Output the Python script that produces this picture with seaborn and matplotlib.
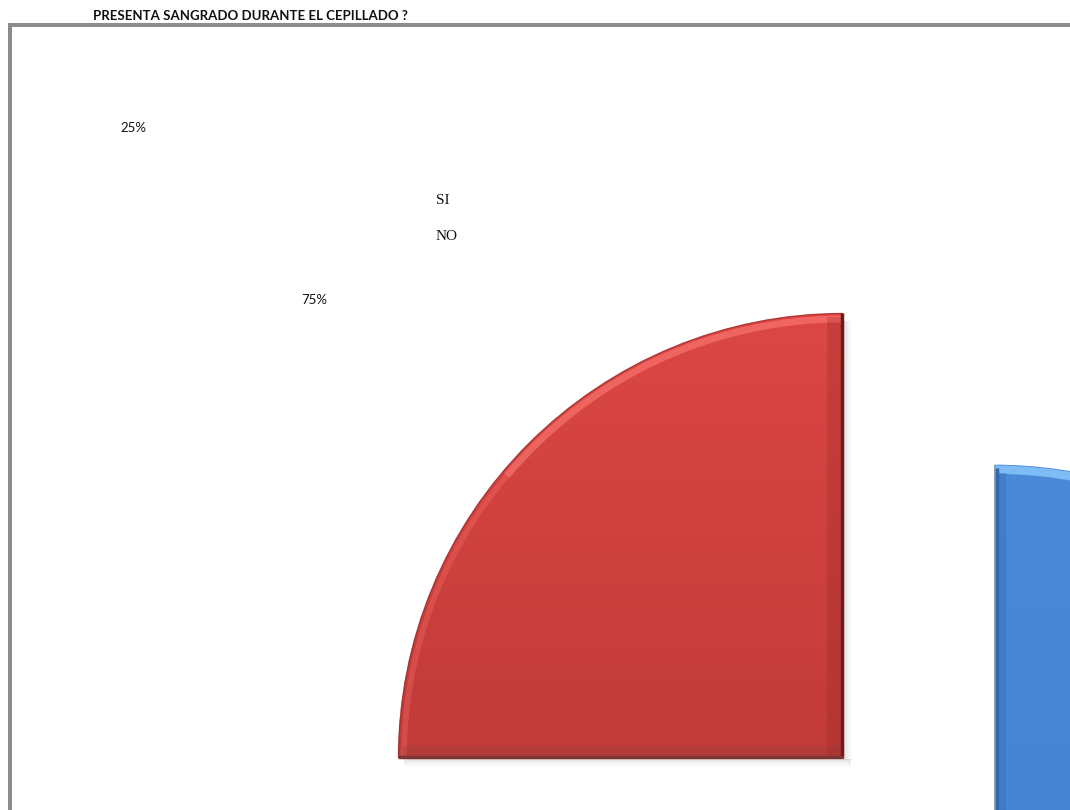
import numpy as np
import matplotlib
matplotlib.use("Agg")
import matplotlib.pyplot as plt
from matplotlib.colors import LinearSegmentedColormap
from matplotlib.patches import Rectangle, Arc
import seaborn as sns

# Survey answers and their shares (percent)
categories = ["SI", "NO"]
values = [75, 25]
title = "PRESENTA SANGRADO DURANTE EL CEPILLADO ?"

sns.set_theme(style="white")
plt.rcParams["font.family"] = ["Lato", "DejaVu Sans"]

W, H = 1070, 810
fig = plt.figure(figsize=(W / 100, H / 100), dpi=100)
ax = fig.add_axes([0, 0, 1, 1])
ax.set_axis_off()

palette = {"SI": ("#4b8ad8", "#3f7dcc"), "NO": ("#dc4744", "#a52f2e")}

# Pie drawn in pixel-like data units: y grows upward, origin at bottom-left
cx, cy, radius = 843, H - 758, 445
explode_frac = [0.482, 0.0]
wedges, _ = ax.pie(
    values,
    colors=[palette[c][0] for c in categories],
    startangle=90,
    counterclock=False,
    explode=[f * radius for f in explode_frac],
    center=(cx, cy),
    radius=radius,
    wedgeprops=dict(linewidth=0),
)

def shade_wedge(wedge, top, bottom, z):
    x0, y0 = wedge.center
    r = wedge.r
    grad = np.linspace(0, 1, 256)[:, None]
    cmap = LinearSegmentedColormap.from_list("shade", [top, bottom])
    im = ax.imshow(grad, cmap=cmap, extent=(x0 - r, x0 + r, y0 - r, y0 + r),
                   aspect="auto", origin="upper", zorder=z)
    im.set_clip_path(wedge)
    wedge.set_facecolor("none")
    wedge.set_zorder(z + 1)

def edge(xs, ys, color, lw, alpha=1.0, z=5, clip=None):
    ln, = ax.plot(xs, ys, color=color, lw=lw, alpha=alpha, zorder=z,
                  solid_capstyle="butt")
    if clip is not None:
        ln.set_clip_path(clip)
    return ln

# soft drop shadow under the red slice
red = wedges[1]
rx, ry = red.center
for k, a in enumerate([0.10, 0.07, 0.04, 0.02]):
    ax.add_patch(Rectangle((rx - red.r + 6, ry - 3 - 2 * k), red.r + 2, 2,
                           color="black", alpha=a, lw=0, zorder=1))
    ax.add_patch(Rectangle((rx + 1 + 2 * k, ry - 2), 2, red.r - 6,
                           color="black", alpha=a, lw=0, zorder=1))

for w, c in zip(wedges, categories):
    shade_wedge(w, palette[c][0], palette[c][1], 2)

# bevel on the red slice: bright rim near the top, darker toward the base
arc_hi = Arc((rx, ry), 2 * (red.r - 6), 2 * (red.r - 6), theta1=90, theta2=140,
             color="#ff7a74", lw=5, alpha=0.6, zorder=4)
arc_lo = Arc((rx, ry), 2 * (red.r - 6), 2 * (red.r - 6), theta1=140, theta2=180,
             color="#ff7570", lw=4, alpha=0.3, zorder=4)
for a in (arc_hi, arc_lo):
    ax.add_patch(a)
    a.set_clip_path(red)
rim = Arc((rx, ry), 2 * red.r - 1, 2 * red.r - 1, theta1=90, theta2=180,
          color="#8a2424", lw=1.0, alpha=0.5, zorder=4)
ax.add_patch(rim)
edge([rx - 1.5, rx - 1.5], [ry, ry + red.r], "#6c1b1b", 2.5)
edge([rx - 9, rx - 9], [ry + 2, ry + red.r - 4], "#8e2626", 10, alpha=0.25)
edge([rx - red.r, rx], [ry + 1.5, ry + 1.5], "#7f3434", 2.5)
edge([rx - red.r + 4, rx - 3], [ry + 7, ry + 7], "#9c4040", 8, alpha=0.35, z=4,
     clip=red)

# bevel on the blue slice
blue = wedges[0]
bx, by = blue.center
edge([bx + 0.5, bx + 0.5], [by, by + blue.r], "#8fa0b6", 1.5)
edge([bx + 2.5, bx + 2.5], [by, by + blue.r - 3], "#3366a8", 2.5)
edge([bx + 7, bx + 7], [by, by + blue.r - 8], "#3a72ba", 6, alpha=0.5)
top_arc = Arc((bx, by), 2 * (blue.r - 5), 2 * (blue.r - 5), theta1=0, theta2=90,
              color="#8ccaff", lw=6, alpha=0.8, zorder=4)
ax.add_patch(top_arc)
top_arc.set_clip_path(blue)

# chart frame
ax.add_patch(Rectangle((10.3, -200), 2000, H - 25.3 + 200, fill=False,
                       ec="#8c8c8c", lw=2.9, zorder=6))

# data labels
pct = {c: f"{v}%" for c, v in zip(categories, values)}
ax.text(133, H - 128, pct["NO"], ha="center", va="center", fontsize=9.5,
        color="#111111", zorder=7)
ax.text(314, H - 300, pct["SI"], ha="center", va="center", fontsize=9.5,
        color="#111111", zorder=7)

# legend entries
for i, c in enumerate(categories):
    ax.text(436, H - 200 - 37 * i, c, ha="left", va="center", fontsize=11,
            family=["Liberation Serif", "DejaVu Serif"], color="#111111", zorder=7)

ax.text(250, H - 16, title, ha="center", va="center", fontsize=9.5,
        fontweight="bold", color="#111111", zorder=7)

ax.set_xlim(0, W)
ax.set_ylim(0, H)
fig.savefig("out.png", dpi=100)
